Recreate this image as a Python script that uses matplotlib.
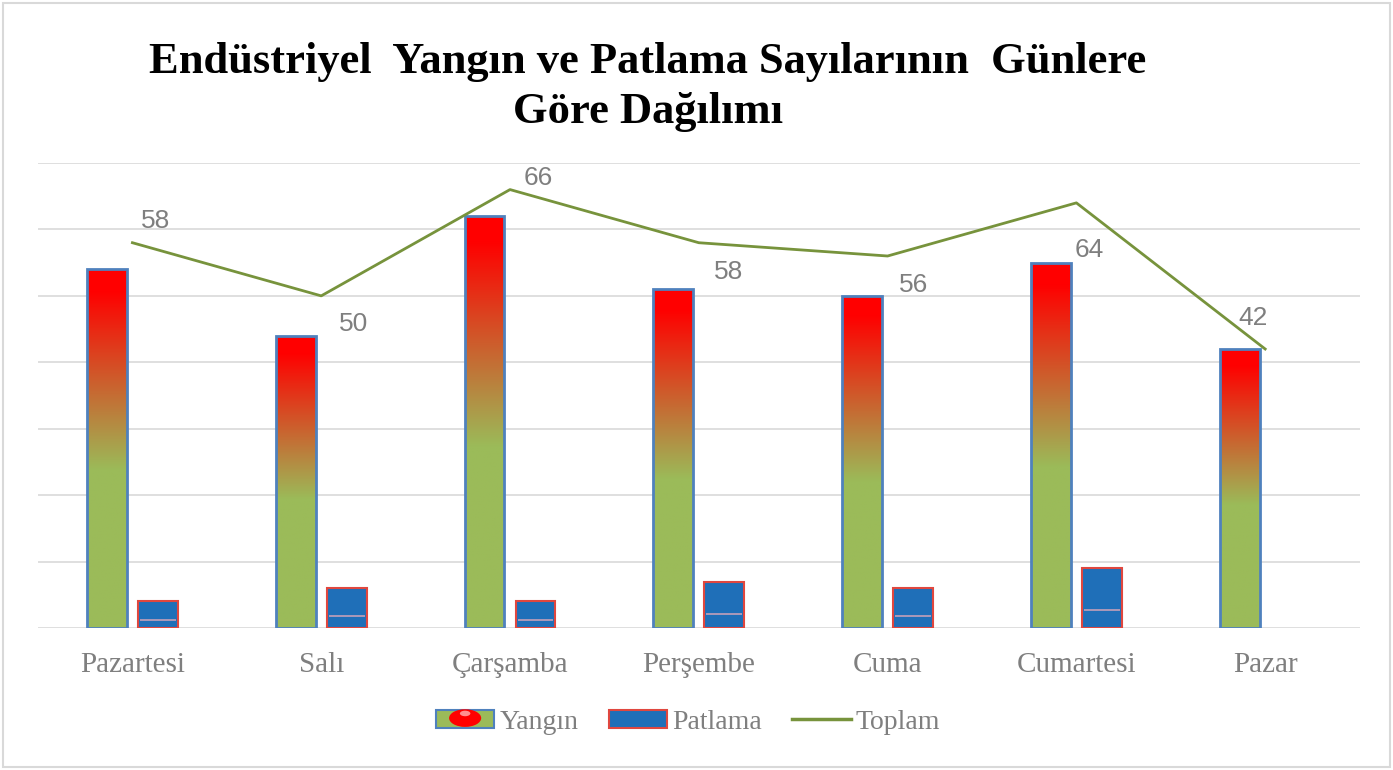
import numpy as np
import matplotlib
matplotlib.use('Agg')
import matplotlib.pyplot as plt
from matplotlib.colors import LinearSegmentedColormap
from matplotlib.patches import Rectangle, Ellipse, Patch
from matplotlib.lines import Line2D
from matplotlib.legend_handler import HandlerBase

days = ['Pazartesi', 'Salı', 'Çarşamba', 'Perşembe', 'Cuma', 'Cumartesi', 'Pazar']
yangin = [54, 44, 62, 51, 50, 55, 42]
patlama = [4, 6, 4, 7, 6, 9, 0]
toplam = [58, 50, 66, 58, 56, 64, 42]

title = 'Endüstriyel  Yangın ve Patlama Sayılarının  Günlere\nGöre Dağılımı'

# label offsets (points) for the Toplam data labels, like Excel placed them
label_off = [(17, 16), (23, -20), (20, 8.5), (21.5, -21), (18.5, -21), (9.5, -34), (-8.5, 22)]

GREEN = '#9BBB59'
RED = '#FF0000'
BLUE_EDGE = '#4F81BD'
PAT_FILL = '#1F6FB8'
PAT_EDGE = '#E0473F'
LINE_C = '#77933C'
GRID_C = '#D9D9D9'
TXT_C = '#7F7F7F'

fire = LinearSegmentedColormap.from_list(
    'fire', [(0.0, RED), (0.06, RED), (0.56, GREEN), (1.0, GREEN)])


class HandlerFire(HandlerBase):
    def create_artists(self, legend, orig_handle, xdescent, ydescent,
                       width, height, fontsize, trans):
        r = Rectangle((-xdescent, -ydescent), width, height, facecolor=GREEN,
                      edgecolor=BLUE_EDGE, lw=1.5, transform=trans)
        e = Ellipse((-xdescent + width / 2, -ydescent + height * 0.55),
                    width * 0.55, height * 0.95, facecolor=RED, edgecolor='none',
                    transform=trans)
        e2 = Ellipse((-xdescent + width / 2, -ydescent + height * 0.8),
                     width * 0.18, height * 0.3, facecolor='#FF9090', edgecolor='none',
                     transform=trans)
        return [r, e, e2]


fig = plt.figure(figsize=(13.93, 7.7), dpi=100)
ax = fig.add_axes([0.0273, 0.1844, 0.9487, 0.6039])

x = np.arange(len(days))
w = 0.21
off = 0.135

grad = np.linspace(1, 0, 256).reshape(-1, 1)
for xi, v in zip(x, yangin):
    bars = ax.bar(xi - off, v, w, facecolor='none', edgecolor=BLUE_EDGE, lw=2, zorder=3)
    im = ax.imshow(grad, extent=[xi - off - w / 2, xi - off + w / 2, 0, v],
                   aspect='auto', cmap=fire, vmin=0, vmax=1, origin='lower', zorder=2)
    im.set_clip_path(bars[0])

for xi, v in zip(x, patlama):
    if v <= 0:
        continue
    ax.bar(xi + off, v, w, facecolor=PAT_FILL, edgecolor=PAT_EDGE, lw=1.5, zorder=3)
    ax.hlines(v * 0.3, xi + off - w / 2 + 0.01, xi + off + w / 2 - 0.01,
              color='#C4A0B8', lw=1.2, zorder=4)

ax.plot(x, toplam, color=LINE_C, lw=2, zorder=5)
for xi, v, (dx, dy) in zip(x, toplam, label_off):
    ax.annotate(str(v), (xi, v), xytext=(dx, dy), textcoords='offset points',
                fontsize=19, color=TXT_C, family='Liberation Sans',
                ha='center', va='center')

ax.set_xlim(-0.5, len(days) - 0.5)
ax.set_ylim(0, 70)
ax.set_yticks(np.arange(0, 71, 10))
ax.yaxis.grid(True, color=GRID_C, lw=1.2)
ax.set_axisbelow(True)
ax.tick_params(axis='y', length=0, labelleft=False)
ax.tick_params(axis='x', length=0, pad=17)
ax.set_xticks(x)
ax.set_xticklabels(days, fontsize=21, color=TXT_C, family='Liberation Serif')
for s in ax.spines.values():
    s.set_visible(False)

fig.text(0.465, 0.887, title, ha='center', va='center', fontsize=32,
         fontweight='bold', family='Liberation Serif', linespacing=1.3)

handles = [Patch(label='Yangın'),
           Patch(facecolor=PAT_FILL, edgecolor=PAT_EDGE, lw=1.5, label='Patlama'),
           Line2D([], [], color=LINE_C, lw=2.5, label='Toplam')]
leg = fig.legend(handles=handles, loc='center', bbox_to_anchor=(0.494, 0.062),
                 ncol=3, frameon=False, handlelength=2.1, handleheight=0.65,
                 handletextpad=0.18, columnspacing=1.1,
                 handler_map={handles[0]: HandlerFire()},
                 prop={'family': 'Liberation Serif', 'size': 20})
for t in leg.get_texts():
    t.set_color(TXT_C)

fig.patches.append(Rectangle((0.002, 0.004), 0.996, 0.992, transform=fig.transFigure,
                             facecolor='none', edgecolor=GRID_C, lw=1.5))

fig.savefig('out.png', dpi=100)
